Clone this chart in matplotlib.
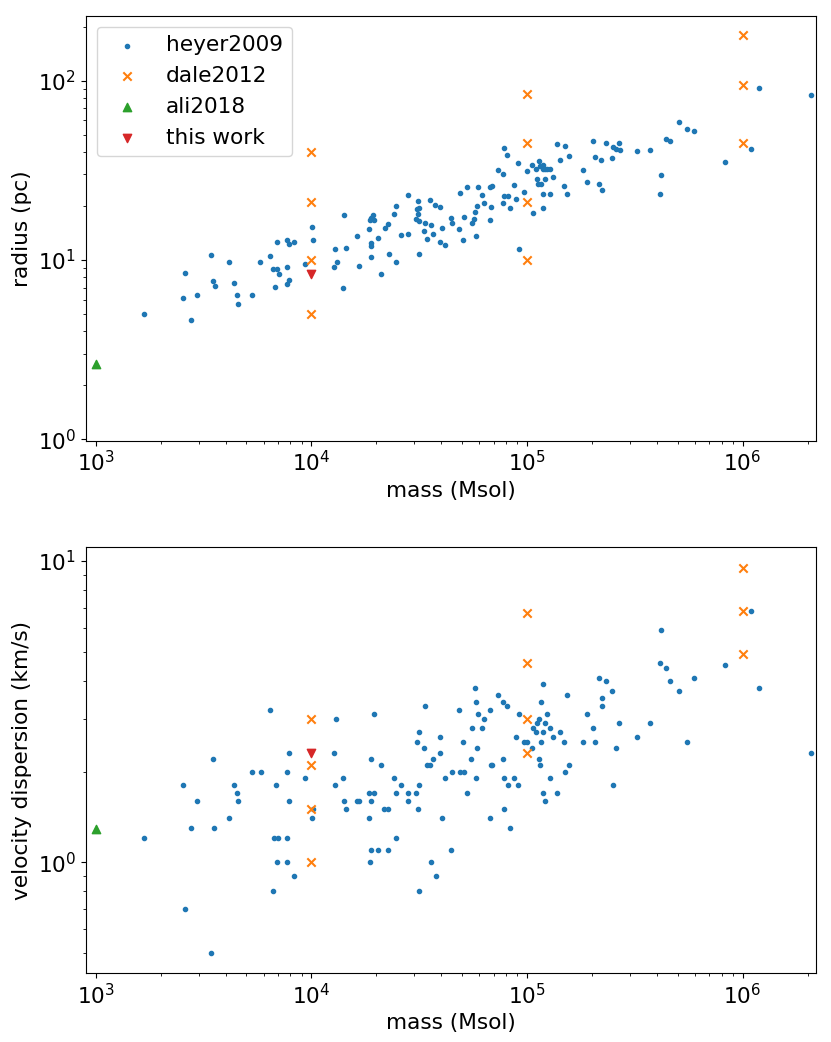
import matplotlib
matplotlib.use("Agg")
import matplotlib.pyplot as plt
import numpy as np

# ---------------- data ----------------
heyer_mass_r = [1670, 2550, 2600, 2770, 2950, 3440, 3500, 3560, 4140, 4390,
                4510, 4550, 5320, 5800, 6450, 6660, 6780, 6910, 6950, 7060,
                7680, 7680, 7730, 7880, 7880, 8330, 9340, 10070, 10180, 14170,
                12870, 13100, 12770, 14060, 14470, 16280, 16580, 18500, 18650, 18900,
                19370, 19520, 18900, 18900, 18900, 20370, 20970, 21880, 22590, 22830,
                24080, 24760, 24760, 25960, 28050, 28140, 31100, 30780, 31660, 31100,
                30450, 31550, 31550, 33650, 33400, 34400, 35500, 36000, 36500, 37550,
                39600, 39500, 40200, 41650, 44300, 44750, 48400, 49050, 50300, 51200,
                52500, 55400, 56600, 57550, 58600, 58000, 59250, 61800, 63200, 67100,
                68800, 67300, 68100, 73300, 77100, 77350, 78200, 78200, 81000, 81900,
                83100, 86800, 89200, 90500, 91800, 96500, 99600, 105800, 106900, 110000,
                111600, 112800, 113600, 114800, 116000, 118200, 119000, 119000, 119000, 120800,
                121600, 123400, 127400, 127400, 131900, 137700, 142700, 148400, 149500, 153700,
                156000, 181200, 189100, 201600, 206000, 215700, 221000, 222700, 232300, 247000,
                251200, 258500, 267800, 269000, 322500, 373000, 412000, 418000, 441000, 459000,
                505000, 550000, 593000, 828000, 1096000, 1186000, 2070000]
heyer_radius = [5.0, 6.1, 8.5, 4.6, 6.4, 10.7, 7.6, 7.2, 9.7, 7.4,
                6.4, 5.7, 6.4, 9.7, 10.5, 8.9, 7.1, 8.9, 12.6, 8.4,
                9.1, 7.3, 12.9, 12.2, 7.7, 12.6, 9.5, 15.3, 12.9, 17.8,
                11.5, 9.7, 9.1, 7.0, 11.7, 13.6, 9.3, 14.8, 16.6, 17.2,
                17.7, 16.7, 12.4, 12.0, 10.4, 13.3, 8.3, 15.1, 15.9, 10.8,
                18.1, 20.0, 9.7, 13.8, 23.0, 14.0, 21.3, 19.2, 19.5, 18.1,
                17.0, 16.4, 10.8, 16.1, 14.5, 13.0, 21.6, 15.7, 14.0, 20.3,
                19.8, 12.6, 15.1, 12.1, 17.2, 16.1, 14.8, 23.7, 12.9, 17.3,
                25.4, 16.0, 16.9, 18.5, 19.9, 13.6, 25.4, 23.0, 20.7, 25.4,
                25.9, 16.7, 19.8, 31.8, 20.9, 30.2, 42.3, 22.8, 38.5, 22.7,
                19.6, 26.2, 21.9, 34.8, 11.5, 23.9, 31.4, 34.0, 18.2, 32.1,
                28.3, 26.4, 35.8, 33.4, 26.5, 32.1, 33.9, 23.3, 19.4, 28.3,
                32.1, 32.1, 32.1, 23.3, 29.0, 44.5, 36.1, 25.9, 42.9, 23.3,
                37.9, 31.8, 27.2, 46.1, 37.5, 26.6, 36.3, 24.4, 45.1, 37.2,
                42.7, 41.6, 44.9, 40.9, 40.7, 41.2, 23.3, 29.9, 47.1, 46.1,
                58.9, 53.8, 52.2, 35.1, 41.8, 91.1, 83.6]

heyer_mass_v = [6450, 3500, 7880, 5320, 5820, 7680, 9340, 2550, 4390, 6880,
                4510, 2950, 4550, 7880, 10200, 4140, 10100, 2770, 3550, 1670,
                6730, 7030, 7730, 6950, 7680, 8330, 6660, 2600, 3440, 13050,
                12770, 12870, 14060, 14170, 14470, 16280, 16630, 18500, 18900, 18560,
                19520, 18960, 19450, 20970, 18900, 20370, 18760, 21790, 22740, 22590,
                24160, 24760, 24760, 25960, 28050, 28050, 30450, 31100, 31550, 30780,
                31550, 33650, 33400, 31450, 34250, 35500, 36500, 36000, 37700, 39600,
                39600, 40200, 41650, 44300, 44750, 48400, 49050, 51200, 50300, 52700,
                55400, 55100, 57200, 58000, 58200, 58600, 59400, 61800, 63200, 67100,
                67100, 67850, 69000, 73300, 77100, 77350, 78200, 78500, 81000, 81900,
                83100, 87000, 89200, 90500, 91800, 96500, 100000, 105800, 106900, 110000,
                111600, 113300, 113600, 114800, 115700, 115700, 119000, 119000, 119000, 120800,
                121100, 123800, 127800, 127800, 131900, 137700, 142700, 148400, 149500, 153700,
                156000, 181200, 189100, 201600, 206000, 215700, 222700, 222000, 232300, 247000,
                251200, 260000, 267800, 322500, 373000, 412000, 418000, 441000, 459000, 505000,
                550000, 593000, 828000, 1096000, 1186000, 2070000]
heyer_sigma = [3.2, 2.2, 2.3, 2.0, 2.0, 2.0, 1.9, 1.8, 1.8, 1.8,
               1.7, 1.6, 1.6, 1.6, 1.5, 1.4, 1.4, 1.3, 1.3, 1.2,
               1.2, 1.2, 1.2, 1.0, 1.0, 0.9, 0.8, 0.7, 0.5, 3.0,
               2.3, 1.8, 1.9, 1.6, 1.5, 1.6, 1.6, 1.4, 2.2, 1.7,
               1.7, 1.6, 3.1, 2.1, 1.1, 1.1, 1.0, 1.5, 1.5, 1.1,
               1.9, 1.7, 1.2, 1.8, 1.7, 1.6, 1.7, 1.5, 1.8, 2.5,
               2.7, 3.3, 2.4, 0.8, 2.1, 2.1, 2.2, 1.0, 0.9, 2.6,
               2.3, 1.4, 1.9, 1.1, 2.0, 3.2, 2.0, 2.0, 2.5, 1.7,
               2.8, 2.2, 3.8, 3.4, 1.9, 2.4, 3.1, 2.8, 3.0, 3.2,
               1.4, 2.1, 2.1, 3.6, 3.4, 2.2, 1.9, 1.5, 3.3, 1.8,
               1.3, 1.9, 2.6, 1.8, 3.1, 2.5, 2.5, 2.4, 2.8, 2.7,
               2.9, 3.0, 2.2, 2.1, 3.4, 2.5, 3.9, 2.7, 1.7, 2.9,
               1.6, 3.1, 2.8, 1.9, 2.6, 1.7, 2.7, 2.5, 2.0, 3.6,
               2.1, 2.5, 3.1, 2.8, 2.5, 4.1, 3.5, 3.3, 4.0, 3.7,
               1.8, 2.4, 2.9, 2.6, 2.9, 4.6, 5.9, 4.4, 4.0, 3.7,
               2.5, 4.1, 4.5, 6.8, 3.8, 2.3]

dale_mass = [1e4, 1e4, 1e4, 1e4, 1e5, 1e5, 1e5, 1e5, 1e6, 1e6, 1e6]
dale_radius = [5, 10, 21, 40, 10, 21, 45, 84, 45, 95, 180]
dale_sigma = [3.0, 2.1, 1.5, 1.0, 6.7, 4.6, 3.0, 2.3, 9.5, 6.8, 4.9]

ali_mass = [1e3]
ali_radius = [2.62]
ali_sigma = [1.29]

this_mass = [1e4]
this_radius = [8.3]
this_sigma = [2.3]

# ---------------- plot ----------------
plt.rcParams['font.family'] = ['DejaVu Sans']
plt.rcParams['font.size'] = 15.6

W, H = 831, 1042
fig = plt.figure(figsize=(W / 100, H / 100), dpi=100)

def box(l, t, r, b):
    return [l / W, 1 - b / H, (r - l) / W, (b - t) / H]

ax1 = fig.add_axes(box(86, 15.7, 816, 440.7))
ax2 = fig.add_axes(box(86, 547.3, 816, 973))

ax1.scatter(heyer_mass_r, heyer_radius, marker='.', color='C0', label='heyer2009')
ax1.scatter(dale_mass, dale_radius, marker='x', color='C1', label='dale2012')
ax1.scatter(ali_mass, ali_radius, marker='^', color='C2', label='ali2018')
ax1.scatter(this_mass, this_radius, marker='v', color='C3', label='this work')

ax2.scatter(heyer_mass_v, heyer_sigma, marker='.', color='C0', label='heyer2009')
ax2.scatter(dale_mass, dale_sigma, marker='x', color='C1', label='dale2012')
ax2.scatter(ali_mass, ali_sigma, marker='^', color='C2', label='ali2018')
ax2.scatter(this_mass, this_sigma, marker='v', color='C3', label='this work')

for ax in (ax1, ax2):
    ax.set_xscale('log')
    ax.set_yscale('log')
    ax.set_xlim(901, 2.19e6)
    ax.set_xlabel('mass (Msol)')

ax1.set_ylim(0.982, 230)
ax2.set_ylim(0.429, 11.1)
ax1.set_ylabel('radius (pc)')
ax2.set_ylabel('velocity dispersion (km/s)')

ax1.legend(loc='upper left')

fig.savefig('out.png', dpi=100)
